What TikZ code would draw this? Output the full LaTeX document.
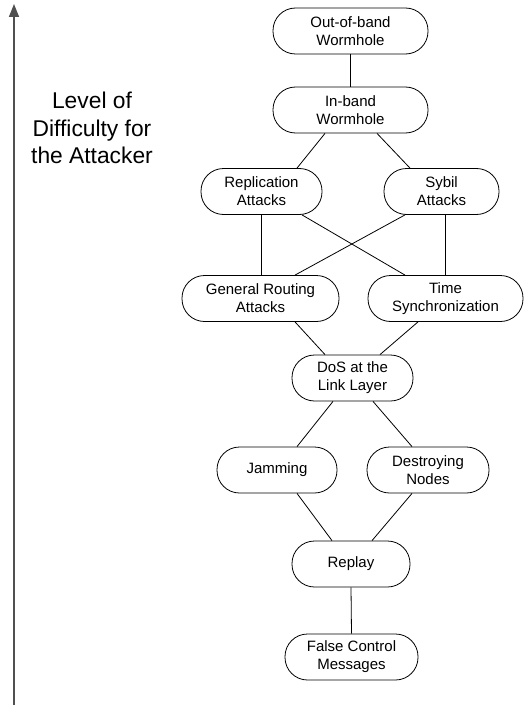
\documentclass[tikz,border=0pt]{standalone}
\usepackage{fontspec}
\setmainfont{Liberation Sans}
\usetikzlibrary{arrows.meta}

\definecolor{axisgrey}{HTML}{505050}

\tikzset{
  attack/.style={draw, line width=0.8pt, rounded corners=22.5pt, minimum height=46pt,
    inner sep=0pt, align=center, font=\fontsize{15}{18}\selectfont},
  link/.style={line width=0.8pt},
}

\begin{document}
\begin{tikzpicture}[x=1pt, y=-1pt]
  \useasboundingbox (0,0) rectangle (527,706);

  % difficulty axis
  \coordinate (axbot) at (14,705);
  \coordinate (axtop) at (14,4);
  \draw[axisgrey, line width=1.5pt, -{Triangle[length=13pt, width=10pt]}] (axbot) -- (axtop);
  \node[align=center, font=\fontsize{22.8}{27.5}\selectfont] (lbl) at (92,128)
    {Level of\\Difficulty for\\the Attacker};

  % attacks
  \node[attack, minimum width=155pt] (oob)  at (350.5,31)  {Out-of-band\\Wormhole};
  \node[attack, minimum width=155pt] (ib)   at (350.5,110) {In-band\\Wormhole};
  \node[attack, minimum width=121pt] (repl) at (261.5,191.5) {Replication\\Attacks};
  \node[attack, minimum width=115pt] (syb)  at (441.5,191.5) {Sybil\\Attacks};
  \node[attack, minimum width=157pt] (gen)  at (260.5,298.5) {General Routing\\Attacks};
  \node[attack, minimum width=155pt] (time) at (445.5,298.5) {Time\\Synchronization};
  \node[attack, minimum width=121pt] (dos)  at (352.5,378) {DoS at the\\Link Layer};
  \node[attack, minimum width=120pt] (jam)  at (277,470) {Jamming};
  \node[attack, minimum width=122pt] (dest) at (428,470) {Destroying\\Nodes};
  \node[attack, minimum width=118pt] (rep)  at (351,564) {Replay};
  \node[attack, minimum width=133pt] (fcm)  at (351.5,657) {False Control\\Messages};

  % connectors
  \draw[link] (oob.south) -- (ib.north);
  \draw[link] ([xshift=-25.5pt]ib.south) -- ([xshift=35.5pt]repl.north);
  \draw[link] ([xshift=26.5pt]ib.south) -- ([xshift=-31.5pt]syb.north);
  \draw[link] (repl.south) -- (repl.south |- gen.north);
  \draw[link] (time.north |- syb.south) -- (time.north);
  \draw[link] ([xshift=40.5pt]repl.south) -- ([xshift=-40.5pt]time.north);
  \draw[link] ([xshift=-36.5pt]syb.south) -- ([xshift=34.5pt]gen.north);
  \draw[link] ([xshift=34.5pt]gen.south) -- ([xshift=-27.5pt]dos.north);
  \draw[link] ([xshift=-27.5pt]time.south) -- ([xshift=27.5pt]dos.north);
  \draw[link] ([xshift=-19.5pt]dos.south) -- ([xshift=20pt]jam.north);
  \draw[link] ([xshift=20.5pt]dos.south) -- ([xshift=-16pt]dest.north);
  \draw[link] ([xshift=20pt]jam.south) -- ([xshift=-19pt]rep.north);
  \draw[link] ([xshift=-16pt]dest.south) -- ([xshift=21pt]rep.north);
  \draw[link] (rep.south) -- (fcm.north);
\end{tikzpicture}
\end{document}
